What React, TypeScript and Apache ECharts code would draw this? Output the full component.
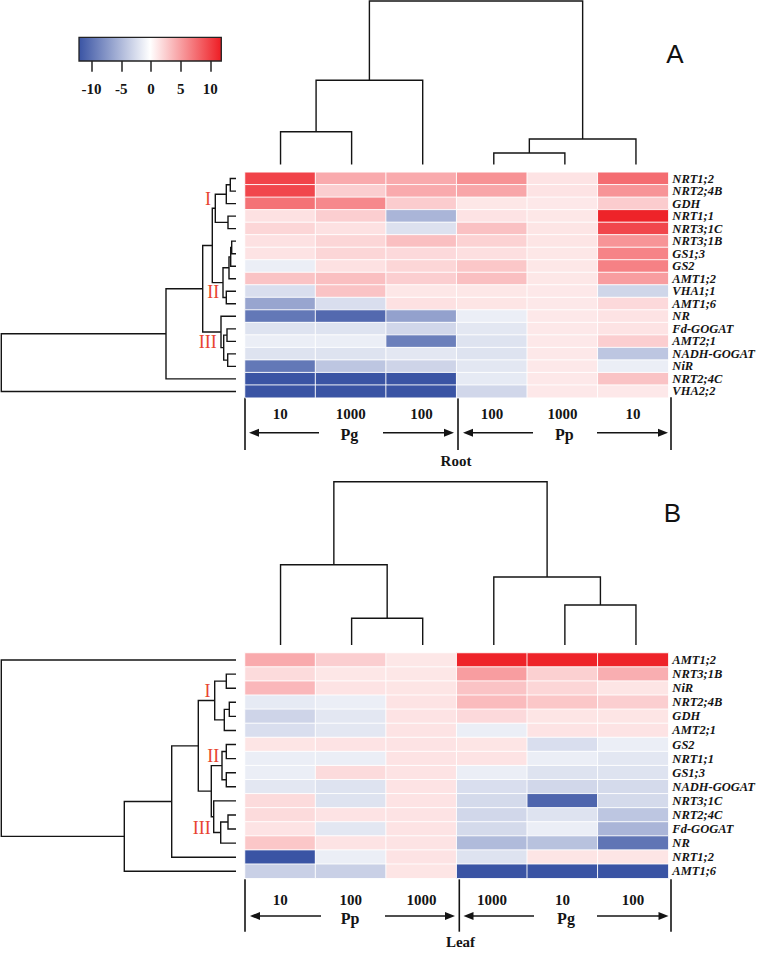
import React, { useEffect, useRef } from 'react';
import * as echarts from 'echarts';

// ---------- Panel A (Root) ----------
const genesA = ['NRT1;2', 'NRT2;4B', 'GDH', 'NRT1;1', 'NRT3;1C', 'NRT3;1B', 'GS1;3', 'GS2', 'AMT1;2', 'VHA1;1', 'AMT1;6', 'NR', 'Fd-GOGAT', 'AMT2;1', 'NADH-GOGAT', 'NiR', 'NRT2;4C', 'VHA2;2'];
const dosesA = ['10', '1000', '100', '100', '1000', '10'];
const valuesA = [
  [10.0, 4.5, 4.5, 5.8, 1.5, 7.8],
  [9.8, 2.6, 4.5, 4.7, 1.5, 5.7],
  [7.5, 6.3, 2.7, 1.3, 1.2, 2.7],
  [1.6, 2.6, -5.2, 1.5, 1.3, 11.7],
  [2.2, 1.6, -2.1, 3.3, 1.4, 9.8],
  [1.6, 2.2, 3.4, 2.4, 1.4, 5.7],
  [1.5, 2.2, 2.0, 1.7, 1.3, 6.6],
  [-1.2, 1.6, 2.2, 3.0, 1.3, 6.7],
  [3.2, 3.4, 2.6, 3.4, 1.3, 5.2],
  [-2.3, 3.2, 1.3, 1.3, 1.2, -2.9],
  [-6.3, -2.3, 1.6, 1.4, 1.2, 2.0],
  [-9.5, -10.5, -6.6, -1.2, 1.2, 1.5],
  [-2.0, -2.0, -2.8, -1.7, 1.2, 1.5],
  [-1.2, -1.2, -9.0, -2.0, 1.2, 2.6],
  [-2.0, -2.0, -1.7, -2.0, 1.2, -4.0],
  [-9.5, -4.0, -3.0, -1.7, 1.2, -1.2],
  [-12.0, -12.0, -12.0, -1.5, 1.2, 3.2],
  [-12.0, -12.0, -12.0, -2.8, 1.2, 1.2],
];
// merges: [childA, childB, height]; leaves 0..n-1, internal nodes n+k
const rowTreeA = [
  [0, 1, 5.7], [18, 2, 9.7], [3, 4, 8], [19, 20, 20.7],
  [5, 6, 4.3], [22, 7, 5.3], [23, 8, 7], [9, 10, 9.7], [24, 25, 13],
  [21, 26, 23.7], [12, 13, 9], [14, 15, 8.3], [28, 29, 12.3], [11, 30, 15],
  [27, 31, 33.3], [32, 16, 70], [33, 17, 234.7],
];
const colTreeA = [[0, 1, 32.8], [6, 2, 84.2], [3, 4, 11.5], [8, 5, 25.5], [7, 9, 163.5]];

// ---------- Panel B (Leaf) ----------
const genesB = ['AMT1;2', 'NRT3;1B', 'NiR', 'NRT2;4B', 'GDH', 'AMT2;1', 'GS2', 'NRT1;1', 'GS1;3', 'NADH-GOGAT', 'NRT3;1C', 'NRT2;4C', 'Fd-GOGAT', 'NR', 'NRT1;2', 'AMT1;6'];
const dosesB = ['10', '100', '1000', '1000', '10', '100'];
const valuesB = [
  [4.5, 2.6, 1.3, 11.7, 11.7, 11.7],
  [1.9, 1.3, 1.3, 5.2, 2.5, 4.3],
  [3.8, 1.5, 1.4, 3.2, 2.2, 1.4],
  [-1.5, -1.2, 1.5, 3.6, 3.0, 2.6],
  [-3.0, -1.7, 1.5, 2.0, 1.4, 1.4],
  [-2.3, -1.7, 1.5, -1.2, 1.5, 1.5],
  [1.4, 1.5, 1.5, 1.4, -2.3, -1.2],
  [-1.2, -1.2, 1.5, 1.5, -1.2, -1.7],
  [-1.2, 1.9, 1.5, -1.2, -2.0, -2.0],
  [-1.7, -2.0, 1.5, -2.3, -2.8, -2.6],
  [1.9, -2.0, 1.5, -2.6, -10.8, -2.6],
  [1.9, 1.5, 1.5, -2.8, -2.0, -4.0],
  [1.5, -1.7, 1.5, -2.6, -1.2, -5.2],
  [3.0, 1.5, 1.5, -4.8, -4.3, -9.7],
  [-12.0, -1.2, 1.5, -2.0, 1.4, 1.4],
  [-3.3, -3.3, 1.4, -12.0, -12.0, -12.0],
];
const rowTreeB = [
  [1, 2, 9.7], [3, 4, 6.7], [17, 5, 11.7], [16, 18, 21.3],
  [6, 7, 9.7], [8, 9, 9.7], [20, 21, 14],
  [11, 12, 8], [23, 13, 15.3], [10, 24, 22.3], [22, 25, 24.7],
  [19, 26, 37.7], [27, 14, 64.3], [28, 15, 111.7], [0, 29, 234.7],
];
const colTreeB = [[1, 2, 26.7], [0, 6, 80.3], [4, 5, 40], [3, 8, 68], [7, 9, 163.3]];

// ---------- colour scale ----------
const colorStops = ['#3a54a4', '#ffffff', '#ee1d24'];
const colorRange = [-12, 12];
const colorbarTickRange = [-10, 10];
const colorbarTickStep = 5;

const SERIF = '"Liberation Serif", "Times New Roman", serif';
const INK = '#141414';

function heatData(vals: number[][]) {
  const out: number[][] = [];
  vals.forEach((row, r) => row.forEach((v, c) => out.push([c, r, v])));
  return out;
}

function dendroItems(merges: number[][], n: number) {
  const pos: number[] = [];
  const ht: number[] = [];
  for (let i = 0; i < n; i++) { pos.push(i + 0.5); ht.push(0); }
  const items: number[][] = [];
  merges.forEach(([a, b, h]) => {
    items.push([pos[a], ht[a], pos[b], ht[b], h]);
    pos.push((pos[a] + pos[b]) / 2);
    ht.push(h);
  });
  return items;
}

const lineStyle = { stroke: INK, lineWidth: 1.4, fill: 'none' };

const rowRender = (_p: any, api: any) => {
  const pA = api.value(0), hA = api.value(1), pB = api.value(2), hB = api.value(3), h = api.value(4);
  return {
    type: 'polyline',
    shape: { points: [api.coord([hA, pA]), api.coord([h, pA]), api.coord([h, pB]), api.coord([hB, pB])] },
    style: lineStyle,
  };
};
const colRender = (_p: any, api: any) => {
  const pA = api.value(0), hA = api.value(1), pB = api.value(2), hB = api.value(3), h = api.value(4);
  return {
    type: 'polyline',
    shape: { points: [api.coord([pA, hA]), api.coord([pA, h]), api.coord([pB, h]), api.coord([pB, hB])] },
    style: lineStyle,
  };
};

function arrow(tail: number, head: number, y: number) {
  const dir = head > tail ? 1 : -1;
  const L = 10, W = 4;
  return [
    { type: 'line', shape: { x1: tail, y1: y, x2: head - dir * L * 0.8, y2: y }, style: { stroke: INK, lineWidth: 1.6 } },
    { type: 'polygon', shape: { points: [[head, y], [head - dir * L, y - W], [head - dir * L, y + W]] }, style: { fill: INK } },
  ];
}
function vline(x: number, y1: number, y2: number) {
  return { type: 'line', shape: { x1: x, y1, x2: x, y2 }, style: { stroke: INK, lineWidth: 1.6 } };
}
function label(text: string, x: number, y: number, size: number, color = INK, weight = 'bold', family = SERIF) {
  return {
    type: 'text', x, y,
    style: { text, fill: color, font: `${weight} ${size}px ${family}`, align: 'center', verticalAlign: 'middle' },
  };
}

export default function App() {
  const ref = useRef<HTMLDivElement>(null);
  useEffect(() => {
    if (!ref.current) return;
    const chart = echarts.init(ref.current, null, { renderer: 'svg' });

    const heatX = (doses: string[], grid: number, margin: number) => ({
      type: 'category', gridIndex: grid, data: doses.map((_, i) => String(i)), position: 'bottom',
      axisLine: { show: false }, axisTick: { show: false }, splitLine: { show: false },
      axisLabel: { interval: 0, formatter: (_v: string, i: number) => doses[i], margin, color: INK, fontFamily: SERIF, fontWeight: 'bold', fontSize: 15 },
    });
    const heatY = (genes: string[], grid: number) => ({
      type: 'category', gridIndex: grid, data: genes, inverse: true, position: 'right',
      axisLine: { show: false }, axisTick: { show: false }, splitLine: { show: false },
      axisLabel: { interval: 0, hideOverlap: false, margin: 4, color: INK, fontFamily: SERIF, fontWeight: 'bold', fontStyle: 'italic', fontSize: 12.5 },
    });
    const hidden = (grid: number, min: number, max: number, inverse = false) => ({
      type: 'value', gridIndex: grid, min, max, inverse, show: false,
    });

    const graphic: any[] = [
      {
        type: 'rect', shape: { x: 79, y: 37.3, width: 142.3, height: 23.7 },
        style: {
          fill: new echarts.graphic.LinearGradient(0, 0, 1, 0, [
            { offset: 0, color: colorStops[0] }, { offset: 0.5, color: colorStops[1] }, { offset: 1, color: colorStops[2] },
          ]),
          stroke: '#222', lineWidth: 1.3,
        },
      },
      label('A', 675, 54, 26, '#111', 'normal', '"Liberation Sans", Arial, sans-serif'),
      label('B', 672.5, 513, 26, '#111', 'normal', '"Liberation Sans", Arial, sans-serif'),
      label('I', 208, 198.5, 18, '#e8432f', 'normal'),
      label('II', 213.3, 292, 18, '#e8432f', 'normal'),
      label('III', 207.7, 342, 18, '#e8432f', 'normal'),
      label('I', 207.5, 690.5, 18, '#e8432f', 'normal'),
      label('II', 213.2, 755.5, 18, '#e8432f', 'normal'),
      label('III', 201.7, 828, 18, '#e8432f', 'normal'),
      // panel A treatment key
      vline(245, 397.3, 450), vline(458, 397.3, 450), vline(671, 397.3, 450),
      ...arrow(319, 249, 432.7), ...arrow(383, 454, 432.7),
      ...arrow(533, 463, 432.7), ...arrow(597, 668, 432.7),
      label('Pg', 349.3, 434, 16), label('Pp', 564.3, 434, 16),
      label('Root', 456, 460.5, 15),
      // panel B treatment key
      vline(245, 879.3, 931.7), vline(459.3, 879.3, 931.7), vline(671, 879.3, 931.7),
      ...arrow(321, 250, 916), ...arrow(385, 455, 916),
      ...arrow(534, 463.5, 916), ...arrow(597, 668.5, 916),
      label('Pp', 350, 918, 16), label('Pg', 566, 918, 16),
      label('Leaf', 460.5, 942, 15),
    ];

    chart.setOption({
      animation: false,
      backgroundColor: '#ffffff',
      grid: [
        { left: 245, top: 172.3, width: 426.5, height: 225.4 },
        { left: 245, top: 653, width: 426.5, height: 225.3 },
        { left: 1, top: 172.3, width: 235, height: 225.4 },
        { left: 245, top: 0, width: 426.5, height: 164.5 },
        { left: 1, top: 653, width: 235, height: 225.3 },
        { left: 245, top: 480, width: 426.5, height: 165 },
        { left: 91.6, top: 37.3, width: 118.7, height: 23.7 },
      ],
      xAxis: [
        heatX(dosesA, 0, 9),
        heatX(dosesB, 1, 14),
        hidden(2, 0, 235, true),
        hidden(3, 0, 6),
        hidden(4, 0, 235, true),
        hidden(5, 0, 6),
        {
          type: 'value', gridIndex: 6, min: colorbarTickRange[0], max: colorbarTickRange[1], interval: colorbarTickStep,
          position: 'bottom', axisLine: { show: false }, splitLine: { show: false },
          axisTick: { show: true, length: 10.7, lineStyle: { color: '#222', width: 1.5 } },
          axisLabel: { margin: 20, color: INK, fontFamily: SERIF, fontWeight: 'bold', fontSize: 15, showMinLabel: true, showMaxLabel: true },
        },
      ],
      yAxis: [
        heatY(genesA, 0),
        heatY(genesB, 1),
        hidden(2, 0, genesA.length, true),
        hidden(3, 0, 164.5),
        hidden(4, 0, genesB.length, true),
        hidden(5, 0, 165),
        { type: 'value', gridIndex: 6, min: 0, max: 1, show: false },
      ],
      visualMap: {
        type: 'continuous', show: false, min: colorRange[0], max: colorRange[1], dimension: 2,
        seriesIndex: [0, 1], inRange: { color: colorStops },
      },
      series: [
        {
          type: 'heatmap', xAxisIndex: 0, yAxisIndex: 0, data: heatData(valuesA),
          itemStyle: { borderColor: '#ffffff', borderWidth: 0.9 }, emphasis: { disabled: true },
        },
        {
          type: 'heatmap', xAxisIndex: 1, yAxisIndex: 1, data: heatData(valuesB),
          itemStyle: { borderColor: '#ffffff', borderWidth: 0.9 }, emphasis: { disabled: true },
        },
        { type: 'custom', xAxisIndex: 2, yAxisIndex: 2, renderItem: rowRender, clip: false, silent: true,
          dimensions: ['pA', 'hA', 'pB', 'hB', 'h'], encode: { x: [1, 3, 4], y: [0, 2] }, data: dendroItems(rowTreeA, genesA.length) },
        { type: 'custom', xAxisIndex: 3, yAxisIndex: 3, renderItem: colRender, clip: false, silent: true,
          dimensions: ['pA', 'hA', 'pB', 'hB', 'h'], encode: { x: [0, 2], y: [1, 3, 4] }, data: dendroItems(colTreeA, dosesA.length) },
        { type: 'custom', xAxisIndex: 4, yAxisIndex: 4, renderItem: rowRender, clip: false, silent: true,
          dimensions: ['pA', 'hA', 'pB', 'hB', 'h'], encode: { x: [1, 3, 4], y: [0, 2] }, data: dendroItems(rowTreeB, genesB.length) },
        { type: 'custom', xAxisIndex: 5, yAxisIndex: 5, renderItem: colRender, clip: false, silent: true,
          dimensions: ['pA', 'hA', 'pB', 'hB', 'h'], encode: { x: [0, 2], y: [1, 3, 4] }, data: dendroItems(colTreeB, dosesB.length) },
        { type: 'scatter', xAxisIndex: 6, yAxisIndex: 6, data: [] },
      ],
      graphic,
    });
    return () => chart.dispose();
  }, []);
  return <div ref={ref} style={{ position: 'absolute', left: 0, top: 0, width: 758, height: 953 }} />;
}
